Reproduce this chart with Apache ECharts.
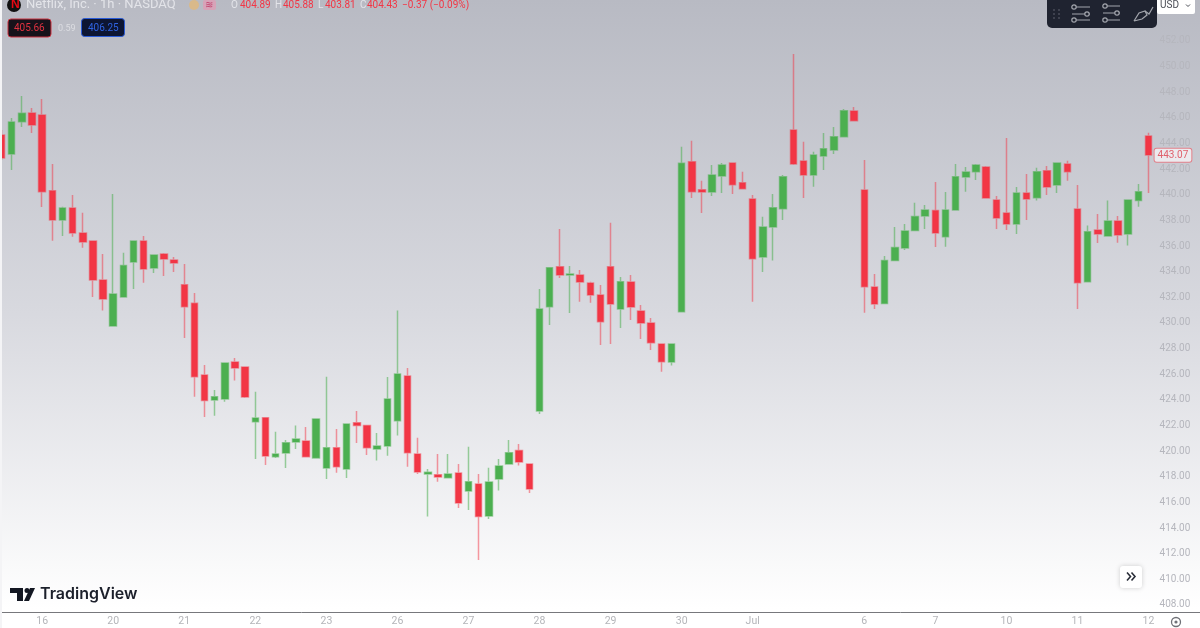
<!DOCTYPE html>
<html>
<head>
<meta charset="utf-8">
<title>NFLX 1h</title>
<style>
  html, body { margin: 0; padding: 0; background: #fff; }
  #chart { width: 1200px; height: 628px; filter: blur(0.4px); }
</style>
</head>
<body>
<div id="chart"></div>
<script src="https://cdn.jsdelivr.net/npm/echarts@6/dist/echarts.min.js"></script>
<script>
// hourly bars
const opens = [
  444.66,443.18,445.70,446.38,446.22,440.32,438.03,438.97,437.02,436.39,
  433.35,429.76,432.02,434.75,436.39,434.29,435.38,434.91,432.98,431.53,
  425.94,423.99,424.07,426.95,426.57,422.30,422.61,419.57,419.86,420.71,
  420.79,419.47,418.69,420.27,418.61,422.22,421.99,420.17,420.40,422.37,
  425.86,419.78,418.22,418.16,417.93,418.30,416.89,417.44,414.94,417.83,
  419.00,420.04,419.00,423.13,431.27,434.39,433.74,433.74,433.12,432.18,
  434.39,431.09,433.20,430.93,429.99,428.36,426.95,430.88,442.58,440.39,
  440.21,441.46,442.48,440.94,439.67,435.14,437.48,438.91,445.05,442.63,
  441.54,443.02,443.49,444.53,446.53,440.37,432.80,431.52,434.86,435.85,
  437.20,438.34,438.76,436.73,438.81,441.38,441.80,442.16,439.59,438.58,
  437.72,440.14,439.77,441.88,440.76,442.40,438.89,433.22,437.25,436.78,
  437.95,436.94,439.54,444.58
];
const closes = [
  442.87,445.67,446.35,445.44,440.24,438.03,438.97,437.02,436.31,433.35,
  431.87,432.26,434.47,436.39,434.21,435.30,434.99,434.68,431.27,425.81,
  423.94,424.25,426.88,426.49,424.22,422.59,419.62,419.78,420.66,420.95,
  419.57,422.51,420.27,418.79,422.12,421.99,420.27,420.40,424.07,426.02,
  419.88,418.37,418.35,417.98,418.22,415.96,417.62,414.89,417.59,418.84,
  419.88,419.15,417.05,431.09,434.31,433.74,433.82,433.19,432.18,430.10,
  431.48,433.22,431.25,429.99,428.46,426.98,428.36,442.45,440.24,440.21,
  441.54,442.32,440.78,440.47,435.01,437.48,438.99,441.41,442.40,441.54,
  443.10,443.59,444.53,446.56,445.78,432.83,431.48,434.86,435.89,437.17,
  438.30,438.81,437.02,438.81,441.41,441.77,442.32,439.75,438.19,437.72,
  440.14,439.67,441.80,440.60,442.48,441.80,433.14,437.12,436.94,437.95,
  436.86,439.59,440.24,443.10
];
const lows = [
  442.71,441.93,445.28,444.82,439.04,436.41,436.78,436.73,435.87,432.02,
  430.96,429.76,432.02,432.65,433.14,433.90,433.66,433.98,428.83,424.25,
  422.66,422.76,423.86,425.50,424.15,419.39,418.92,419.47,418.69,420.17,
  419.54,419.47,417.83,418.32,417.91,420.64,419.70,419.26,419.64,421.21,
  418.79,418.22,414.89,417.62,417.93,415.57,415.41,411.51,414.71,416.92,
  419.00,418.87,416.74,422.90,429.84,433.51,430.78,431.66,431.58,428.28,
  428.36,429.61,430.23,428.75,427.89,426.20,426.67,430.88,439.75,438.58,
  439.90,440.14,440.06,440.47,431.66,433.98,434.86,438.03,442.32,439.75,
  440.63,441.93,443.18,444.53,445.78,430.80,431.09,431.52,434.86,435.69,
  437.20,437.33,435.92,435.95,438.81,440.24,441.15,439.75,437.33,437.25,
  436.94,438.03,439.54,439.98,440.14,441.10,431.09,433.22,436.23,436.78,
  436.26,436.03,439.07,440.14
];
const highs = [
  445.05,445.99,447.70,446.77,447.47,442.40,439.07,439.98,438.60,436.39,
  435.38,440.06,435.48,436.39,436.78,435.30,435.46,435.14,434.60,432.34,
  426.72,424.77,426.88,427.27,426.57,424.64,422.61,421.52,420.87,421.99,
  421.88,422.51,425.81,421.73,422.12,423.13,421.99,421.42,425.78,430.96,
  426.49,421.05,418.61,419.78,419.78,419.00,420.35,418.22,418.71,419.39,
  420.87,420.56,419.00,432.65,434.31,437.33,434.44,434.13,433.22,432.96,
  437.82,433.58,433.74,431.40,430.39,428.36,428.36,443.75,444.22,441.10,
  442.32,442.48,442.48,441.80,439.98,438.29,440.06,441.54,450.98,444.14,
  443.36,444.82,445.28,446.69,446.84,442.71,433.82,435.22,437.48,437.72,
  439.38,439.20,441.00,440.21,442.40,442.16,442.40,442.24,439.90,444.43,
  440.60,441.62,442.11,442.24,442.48,442.66,440.76,437.59,438.50,439.54,
  438.34,439.59,440.84,444.84
];
const dayBars = [4, 11, 18, 25, 32, 39, 46, 53, 60, 67, 74, 85, 92, 99, 106, 113];
const dayNames = ['16', '20', '21', '22', '23', '26', '27', '28', '29', '30', 'Jul', '6', '7', '10', '11', '12'];
const priceTicks = [408, 410, 412, 414, 416, 418, 420, 422, 424, 426, 428, 430, 432, 434, 436, 438,
  440, 442, 444, 446, 448, 450, 452];
const lastPrice = 443.07;

const UP = '#4caf50';
const DOWN = '#f23645';
const FONT = 'Roboto, "Open Sans", sans-serif';

const categories = opens.map((o, i) => {
  const d = dayBars.indexOf(i);
  return d >= 0 ? dayNames[d] : '';
});
const bars = opens.map((o, i) => [o, closes[i], lows[i], highs[i]]);

let myChart = echarts.init(document.getElementById('chart'), null, { renderer: 'canvas' });

// small helpers for the overlay bits
let label = (x, y, text, fill, size, extra) => ({
  type: 'text', x: x, y: y, z: 100,
  style: Object.assign({ text: text, fill: fill, font: (size || 12) + 'px ' + FONT, verticalAlign: 'middle' }, extra || {})
});
let box = (x, y, w, h, r, fill, stroke) => ({
  type: 'rect', z: 99,
  shape: { x: x, y: y, width: w, height: h, r: r },
  style: { fill: fill, stroke: stroke || null, lineWidth: stroke ? 1 : 0 }
});
let seg = (x1, y1, x2, y2, stroke, w) => ({
  type: 'line', z: 100,
  shape: { x1: x1, y1: y1, x2: x2, y2: y2 },
  style: { stroke: stroke, lineWidth: w || 1 }
});
let knob = (x, y, stroke) => ({
  type: 'circle', z: 101,
  shape: { cx: x, cy: y, r: 2.2 },
  style: { fill: '#1f2330', stroke: stroke, lineWidth: 1.2 }
});
let stroke = (points, color, w) => ({
  type: 'polyline', z: 100,
  shape: { points: points },
  style: { fill: null, stroke: color, lineWidth: w || 1 }
});

const ICON = '#a3a6ad';
const overlay = [
  // left white edge + rest of the bottom rule
  box(0, 0, 2, 628, 0, '#f4f4f6'),
  seg(2, 612.5, 1200, 612.5, '#77787c', 1),

  // header
  { type: 'circle', z: 100, shape: { cx: 14, cy: 5, r: 7 }, style: { fill: '#111' } },
  label(11, 5, 'N', '#e50914', 9, { fontWeight: 'bold' }),
  label(26, 5, 'Netflix, Inc. · 1h · NASDAQ', '#e3e4e9', 13),
  { type: 'circle', z: 100, shape: { cx: 194, cy: 5, r: 5 }, style: { fill: '#d9b98a' } },
  box(203, 0, 13, 10, 2, '#d7a3b8'),
  label(205, 5, '≋', '#c2456f', 10),
  label(231, 5, 'O', '#e3e4e9', 10),
  label(240, 5, '404.89', DOWN, 10),
  label(275, 5, 'H', '#e3e4e9', 10),
  label(283, 5, '405.88', DOWN, 10),
  label(318, 5, 'L', '#e3e4e9', 10),
  label(325, 5, '403.81', DOWN, 10),
  label(360, 5, 'C', '#e3e4e9', 10),
  label(367, 5, '404.43', DOWN, 10),
  label(402, 5, '−0.37 (−0.09%)', DOWN, 10),

  // bid / ask chips
  box(8, 19, 43, 18, 3, '#16121a', '#c8313f'),
  label(14, 28.5, '405.66', '#e23240', 10),
  label(58, 28.5, '0.59', '#dcdde2', 9),
  box(81.5, 18.5, 43, 18, 3, '#0d1532', '#2a5bd7'),
  label(88, 28, '406.25', '#2f62e0', 10),

  // drawing toolbar
  box(1047, -6, 110, 34, 5, '#1f2330'),
  { type: 'circle', z: 100, shape: { cx: 1054, cy: 10, r: 1 }, style: { fill: '#4a4d58' } },
  { type: 'circle', z: 100, shape: { cx: 1059, cy: 10, r: 1 }, style: { fill: '#4a4d58' } },
  { type: 'circle', z: 100, shape: { cx: 1054, cy: 14, r: 1 }, style: { fill: '#4a4d58' } },
  { type: 'circle', z: 100, shape: { cx: 1059, cy: 14, r: 1 }, style: { fill: '#4a4d58' } },
  { type: 'circle', z: 100, shape: { cx: 1054, cy: 18, r: 1 }, style: { fill: '#4a4d58' } },
  { type: 'circle', z: 100, shape: { cx: 1059, cy: 18, r: 1 }, style: { fill: '#4a4d58' } },
  seg(1072, 7, 1090, 7, ICON), seg(1072, 14, 1090, 14, ICON), seg(1072, 20, 1090, 20, ICON),
  knob(1074, 7, ICON), knob(1087, 14, ICON), knob(1074, 20, ICON),
  seg(1103, 6, 1120, 6, ICON), seg(1103, 13, 1120, 13, ICON), seg(1103, 20, 1120, 20, ICON),
  knob(1105, 6, ICON), knob(1117, 13, ICON), knob(1105, 20, ICON),
  stroke([[1134, 21], [1139, 13], [1145, 11], [1147, 15], [1142, 19], [1134, 21]], ICON, 1.2),
  stroke([[1145, 11], [1149, 14], [1153, 7]], ICON, 1.2),

  // currency button
  box(1157, -2, 38, 16, 2, '#ffffff'),
  label(1160, 5, 'USD', '#4a4d55', 10),
  stroke([[1186, 4.5], [1188, 6.5], [1190, 4.5]], '#4a4d55', 1),

  // scroll-to-latest button
  Object.assign(box(1120, 566, 22, 22, 3, '#ffffff'), {
    style: { fill: '#fff', shadowBlur: 5, shadowColor: 'rgba(0,0,0,0.18)' }
  }),
  stroke([[1127, 572.5], [1130.5, 576.5], [1127, 580.5]], '#2a2e39', 1.6),
  stroke([[1131.5, 572.5], [1135, 576.5], [1131.5, 580.5]], '#2a2e39', 1.6),

  // settings gear
  { type: 'circle', z: 100, shape: { cx: 1176, cy: 622, r: 4.5 }, style: { fill: null, stroke: '#6f7177', lineWidth: 1.3 } },
  { type: 'circle', z: 100, shape: { cx: 1176, cy: 622, r: 1.6 }, style: { fill: '#6f7177' } },

  // watermark
  { type: 'polygon', z: 100,
    shape: { points: [[10, 588], [23, 588], [23, 601], [17, 601], [17, 593], [10, 593]] },
    style: { fill: '#131722' } },
  { type: 'circle', z: 100, shape: { cx: 27, cy: 590.5, r: 2.5 }, style: { fill: '#131722' } },
  { type: 'polygon', z: 100,
    shape: { points: [[30, 588], [35, 588], [29, 601], [24, 601]] },
    style: { fill: '#131722' } },
  label(40, 594.5, 'TradingView', '#1c202b', 16, { font: '600 16px Inter, Roboto, sans-serif' })
];

let option = {
  animation: false,
  backgroundColor: {
    type: 'linear', x: 0, y: 0, x2: 0, y2: 1,
    colorStops: [
      { offset: 0, color: '#b8bac3' },
      { offset: 0.5, color: '#d8d9df' },
      { offset: 0.97, color: '#ffffff' },
      { offset: 1, color: '#ffffff' }
    ]
  },
  grid: { left: -3.5, right: 46.4, top: 0, bottom: 16, outerBoundsMode: 'none' },
  xAxis: {
    type: 'category',
    data: categories,
    axisLine: { show: false },
    axisTick: { show: false },
    splitLine: { show: false },
    axisLabel: { interval: 0, color: '#b4b5b9', fontSize: 10.5, fontFamily: FONT, margin: 4 }
  },
  yAxis: {
    type: 'value',
    position: 'right',
    min: 407.45,
    max: 455.19,
    scale: true,
    axisLine: { show: false },
    axisTick: { show: false },
    splitLine: { show: false },
    axisLabel: {
      customValues: priceTicks,
      formatter: v => v.toFixed(2),
      color: '#b5b6bd',
      fontSize: 10,
      fontFamily: FONT,
      margin: 6
    }
  },
  series: [
    {
      type: 'candlestick',
      data: bars,
      barWidth: 7,
      itemStyle: {
        color: UP,
        color0: DOWN,
        borderColor: 'rgba(76,175,80,0.55)',
        borderColor0: 'rgba(242,54,69,0.5)',
        borderWidth: 1.5
      },
      markLine: {
        silent: true,
        symbol: 'none',
        animation: false,
        lineStyle: { width: 1, color: 'transparent' },
        label: {
          show: true,
          position: 'end',
          distance: 1,
          formatter: lastPrice.toFixed(2),
          color: '#e0606c',
          fontSize: 10,
          fontFamily: FONT,
          backgroundColor: '#eceaee',
          borderColor: '#e2808a',
          borderWidth: 1,
          borderRadius: 2,
          padding: [2, 3, 1, 3]
        },
        data: [{ yAxis: lastPrice }]
      }
    }
  ],
  graphic: { elements: overlay }
};

option && myChart.setOption(option);
</script>
</body>
</html>
